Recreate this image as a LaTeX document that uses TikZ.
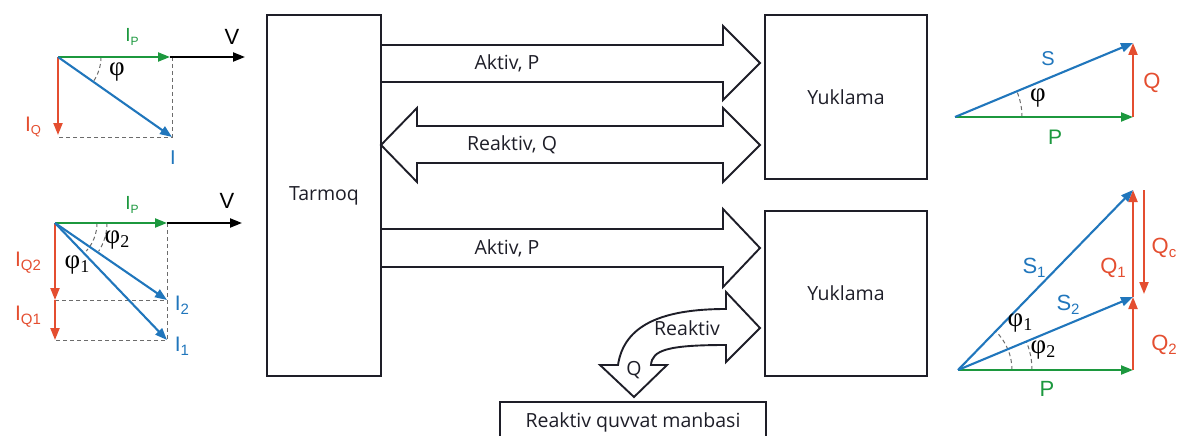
\documentclass[tikz,border=0pt]{standalone}
\usepackage{fontspec}
\setmainfont{Open Sans}
\newfontfamily\vecfont{Liberation Sans}
\newfontfamily\grkfont{Liberation Serif}
\usetikzlibrary{arrows.meta}
\definecolor{vgreen}{RGB}{28,152,62}
\definecolor{vblue}{RGB}{32,118,188}
\definecolor{vred}{RGB}{228,78,48}
\definecolor{ink}{RGB}{30,30,40}
\newcommand{\fsz}[1]{\fontsize{#1}{#1}\selectfont}
% vector name with a lowered index: size, letter, index size, index
\newcommand{\vlab}[4]{{\vecfont\fsz{#1}#2\raisebox{-0.35ex}{\fsz{#3}#4}}}
% angle name with an optional lowered index
\newcommand{\phiang}[1]{{\grkfont\fsz{27}φ\raisebox{-0.3ex}{\fsz{18}#1}}}
\begin{document}
\begin{tikzpicture}[x=1pt,y=-1pt,
  blk/.style={draw=ink,line width=1.7pt,font=\fsz{19.5},text=ink},
  barrow/.style={draw=ink,line width=1.9pt,line join=miter},
  blab/.style={font=\fsz{19.5},text=ink,inner sep=0pt},
  vec/.style={line width=2.1pt,-{Triangle[length=12pt,width=9pt]}},
  guide/.style={draw=gray!85!black,line width=1pt,dash pattern=on 4pt off 3pt},
  lab/.style={inner sep=0pt},
  ang/.style={inner sep=0pt}]
\useasboundingbox (0,0) rectangle (1181,436);
\clip (0,0) rectangle (1181,436);

% ---------- blocks ----------
\node[blk,minimum width=114,minimum height=361] (tarmoq) at (324,195.5) {Tarmoq};
\node[blk,minimum width=162,minimum height=164] (yuk1) at (846,97) {Yuklama};
\node[blk,minimum width=162,minimum height=165] (yuk2) at (846,293.5) {Yuklama};
\node[blk,minimum width=266,minimum height=40] (manba) at (633,422) {Reaktiv quvvat manbasi};

% ---------- block arrows ----------
% active power to the upper load
\draw[barrow] (381,45) -- (723,45) -- (723,26) -- (760,63) -- (723,100) -- (723,82) -- (381,82);
% reactive power exchanged both ways
\draw[barrow] (381,145) -- (417,108) -- (417,126) -- (723,126) -- (723,108) -- (760,145)
  -- (723,182) -- (723,163) -- (417,163) -- (417,182) -- cycle;
% active power to the lower load
\draw[barrow] (381,229) -- (723,229) -- (723,209) -- (760,248) -- (723,287) -- (723,267) -- (381,267);
% reactive power between the lower load and the compensating source
\draw[barrow] (760,328) -- (726,362) -- (726,345)
  .. controls (668,345) and (652,350) .. (651,365) -- (667,365) -- (634,397) -- (600,365) -- (618,365)
  .. controls (624,325) and (662,309) .. (726,309) -- (726,292) -- cycle;

\node[blab] (la1) at (507,63) {Aktiv, P};
\node[blab] (lr1) at (512,145) {Reaktiv, Q};
\node[blab] (la2) at (507,248) {Aktiv, P};
\node[blab] (lr2) at (687,328) {Reaktiv};
\node[blab] (lq2) at (634,370) {Q};

% ---------- current phasors, no compensation ----------
\coordinate (o1) at (58,57);
\coordinate (ip1) at (170,57);
\coordinate (v1) at (245,57);
\coordinate (iq1) at (58,135);
\coordinate (i1) at (172,137);
\draw[guide] (172,57) -- (172,137) -- (58,137);
\draw[guide] (101,57) arc[start angle=0,end angle=35,radius=43];
\draw[vec,black] (ip1) -- (v1);
\draw[vec,vgreen] (o1) -- (ip1);
\draw[vec,vred] (o1) -- (iq1);
\draw[vec,vblue] (o1) -- (i1);
\node[lab] at (232,37) {\vecfont\fsz{22}V};
\node[lab,text=vgreen] at (132,37) {\vlab{19}{I}{12}{P}};
\node[lab,text=vred] at (33,127) {\vlab{21}{I}{13}{Q}};
\node[lab,text=vblue] at (173,158) {\vecfont\fsz{20}I};
\node[ang] at (117,72) {\phiang{}};

% ---------- current phasors, with compensation ----------
\coordinate (o2) at (55,223);
\coordinate (ip2) at (167,223);
\coordinate (v2) at (242,223);
\coordinate (iqa) at (55,300);
\coordinate (iqb) at (55,340);
\coordinate (i2) at (167,300);
\coordinate (i3) at (167,340);
\draw[guide] (167,223) -- (167,340) -- (55,340);
\draw[guide] (55,300) -- (167,300);
\draw[guide] (97,223) arc[start angle=0,end angle=42,radius=42];
\draw[guide] (107,223) arc[start angle=0,end angle=33,radius=52];
\draw[vec,black] (ip2) -- (v2);
\draw[vec,vgreen] (o2) -- (ip2);
\draw[vec,vred] (o2) -- (iqa);
\draw[vec,vred] (iqa) -- (iqb);
\draw[vec,vblue] (o2) -- (i2);
\draw[vec,vblue] (o2) -- (i3);
\node[lab] at (227,201) {\vecfont\fsz{22}V};
\node[lab,text=vgreen] at (132,205) {\vlab{19}{I}{12}{P}};
\node[lab,text=vred] at (28,263) {\vlab{21}{I}{15}{Q2}};
\node[lab,text=vred] at (28,317) {\vlab{21}{I}{15}{Q1}};
\node[lab,text=vblue] at (182,305) {\vlab{21}{I}{15}{2}};
\node[lab,text=vblue] at (182,346) {\vlab{21}{I}{15}{1}};
\node[ang] at (117,240) {\phiang{2}};
\node[ang] at (77,265) {\phiang{1}};

% ---------- power triangle, no compensation ----------
\coordinate (a3) at (955,117);
\coordinate (b3) at (1133,117);
\coordinate (c3) at (1133,43);
\draw[guide] (1022,117) arc[start angle=0,end angle=-22.6,radius=67];
\draw[vec,vgreen] (a3) -- (b3);
\draw[vec,vred] (b3) -- (c3);
\draw[vec,vblue] (a3) -- (c3);
\node[lab,text=vblue] at (1048,59) {\vecfont\fsz{20}S};
\node[lab,text=vred] at (1152,83) {\vecfont\fsz{22}Q};
\node[lab,text=vgreen] at (1055,137) {\vecfont\fsz{21}P};
\node[ang] at (1038,98) {\phiang{}};

% ---------- power triangle, with compensation ----------
\coordinate (a4) at (958,370);
\coordinate (b4) at (1133,370);
\coordinate (c4) at (1133,297);
\coordinate (d4) at (1133,190);
\coordinate (qs) at (1144,190);
\coordinate (qe) at (1144,294);
\draw[guide] (1012,370) arc[start angle=0,end angle=-45.8,radius=54];
\draw[guide] (1032,370) arc[start angle=0,end angle=-22.6,radius=74];
\draw[vec,vgreen] (a4) -- (b4);
\draw[vec,vred] (b4) -- (c4);
\draw[vec,vred] (c4) -- (d4);
\draw[vec,vred] (qs) -- (qe);
\draw[vec,vblue] (a4) -- (d4);
\draw[vec,vblue] (a4) -- (c4);
\node[lab,text=vblue] at (1034,268) {\vlab{22}{S}{15}{1}};
\node[lab,text=vblue] at (1068,305) {\vlab{22}{S}{15}{2}};
\node[lab,text=vred] at (1113,268) {\vlab{22}{Q}{15}{1}};
\node[lab,text=vred] at (1164,248) {\vlab{22}{Q}{15}{c}};
\node[lab,text=vred] at (1164,345) {\vlab{22}{Q}{15}{2}};
\node[lab,text=vgreen] at (1047,389) {\vecfont\fsz{22}P};
\node[ang] at (1020,323) {\phiang{1}};
\node[ang] at (1043,350) {\phiang{2}};
\end{tikzpicture}
\end{document}
